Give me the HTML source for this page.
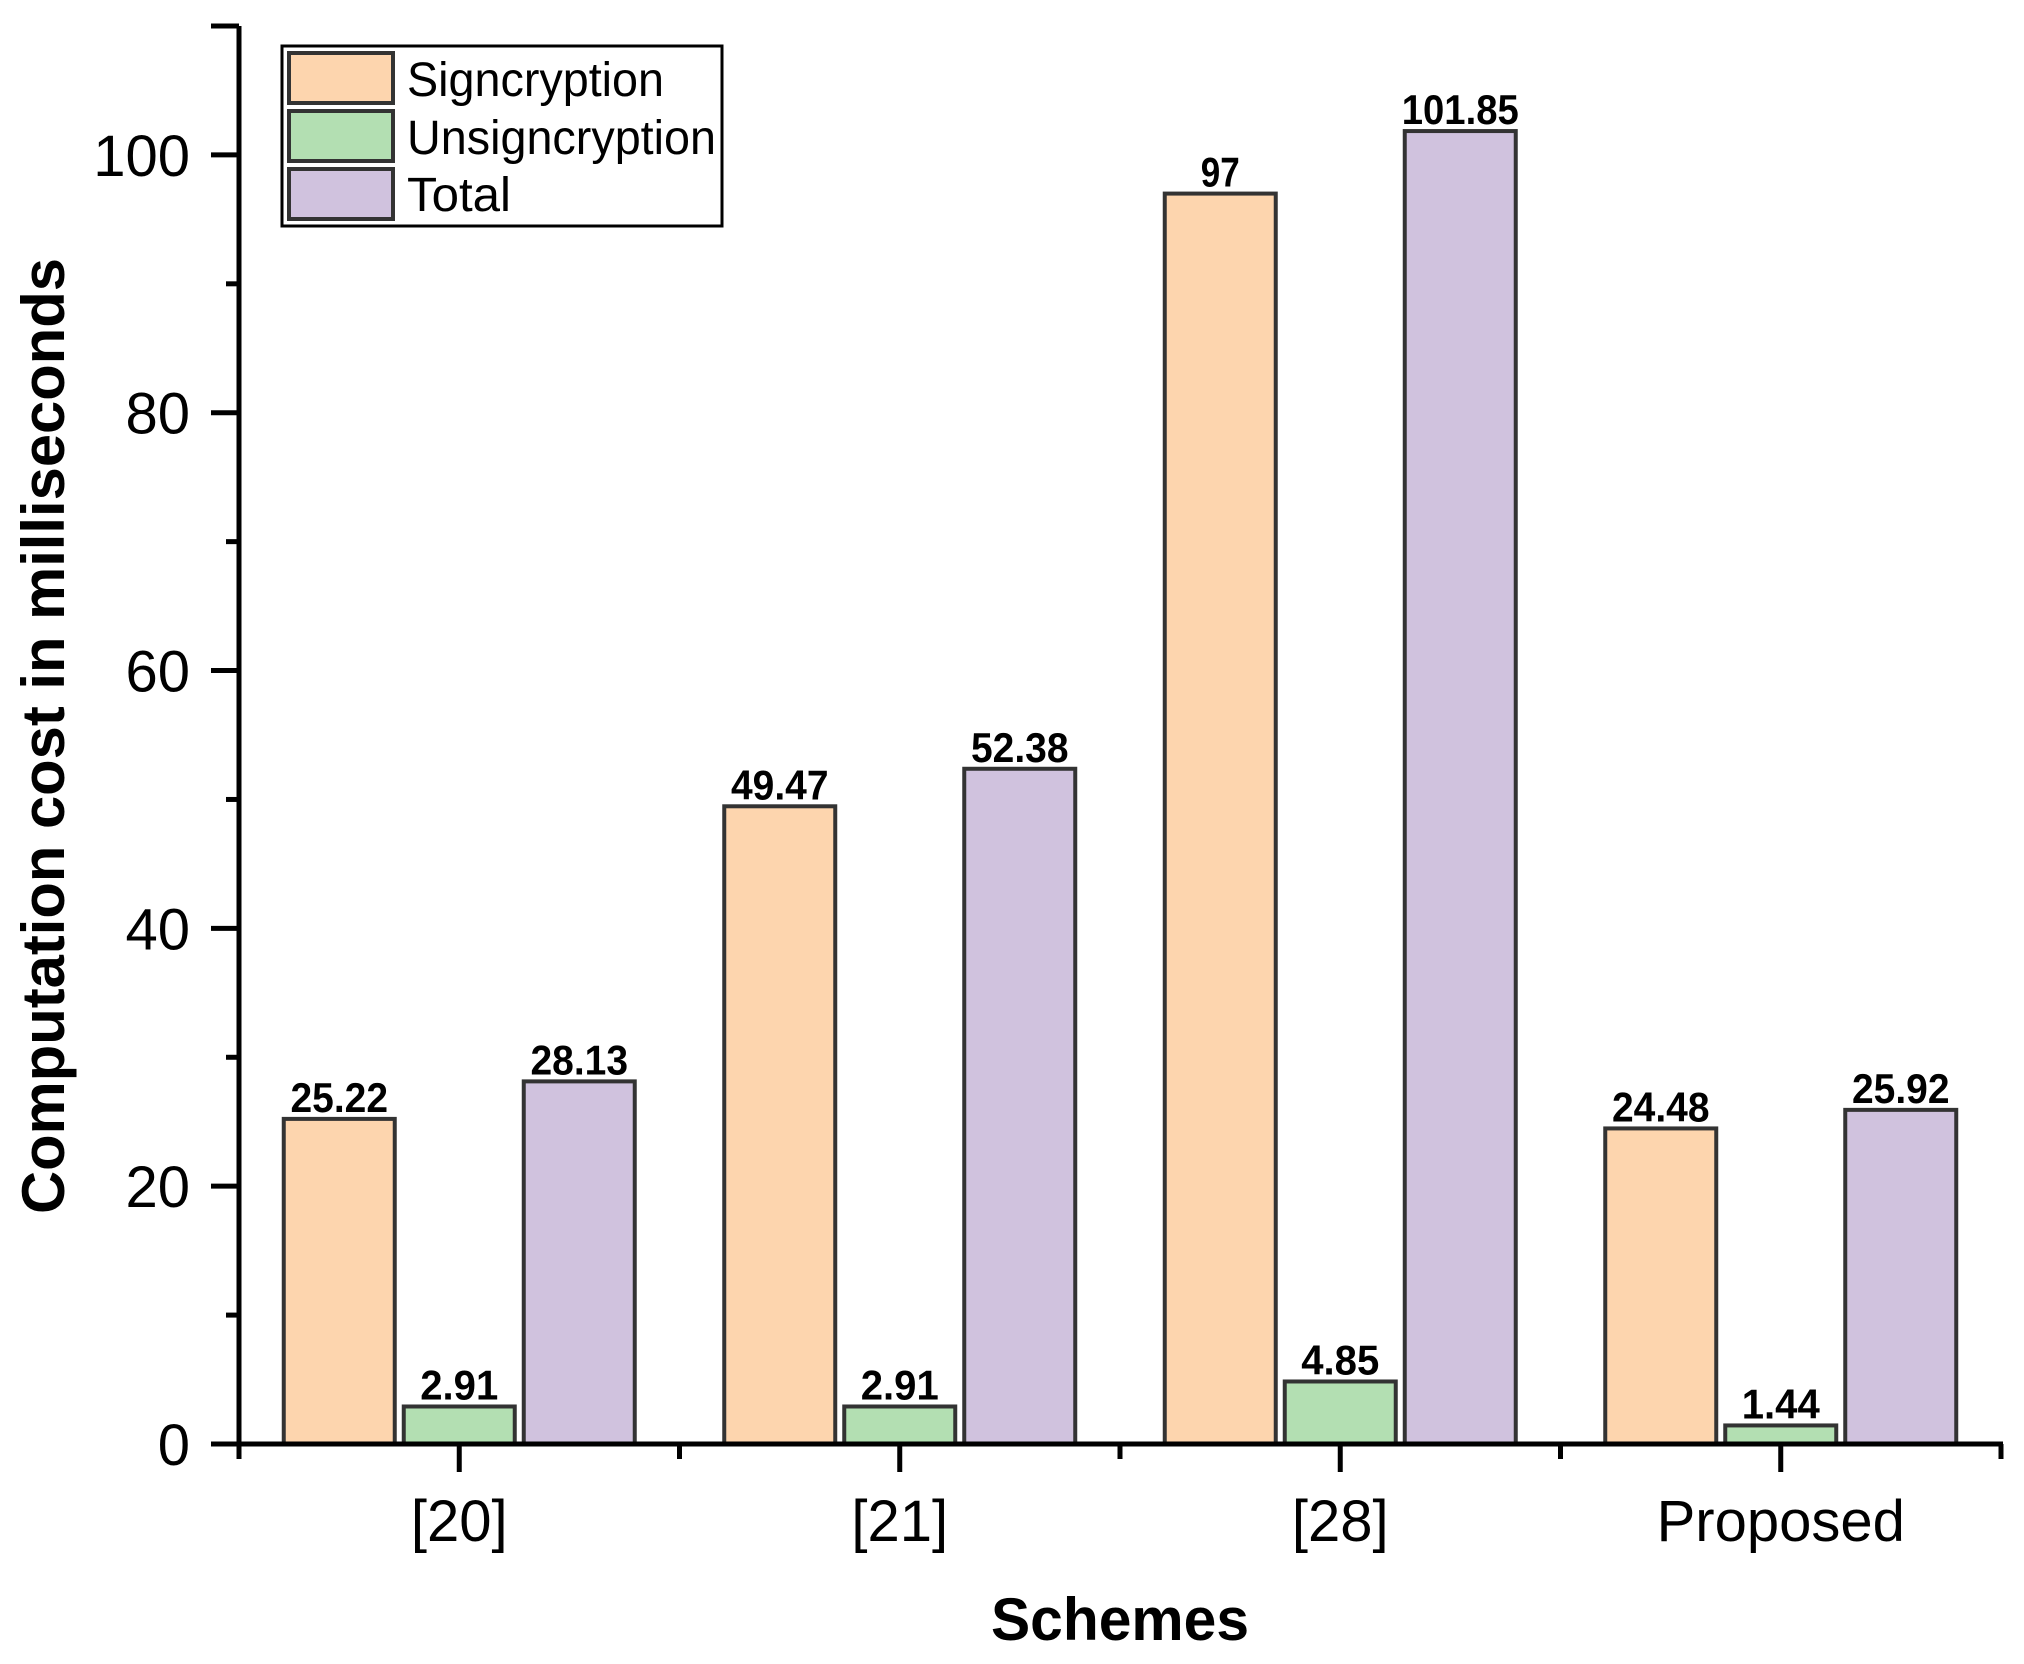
<!DOCTYPE html>
<html><head><meta charset="utf-8"><style>
html,body{margin:0;padding:0;background:#fff;}
svg{display:block;font-family:"Liberation Sans",Arial,sans-serif;}
</style></head><body>
<svg id="chart" width="2024" height="1664" viewBox="0 0 2024 1664" xmlns="http://www.w3.org/2000/svg">
<g id="bars"></g>
<g id="axes"></g>
<g id="legend">
  <rect x="282" y="46" width="440" height="180" fill="#fff" stroke="#000" stroke-width="3"/>
  <rect x="289" y="53" width="104" height="50" fill="#FDD5AE" stroke="#333" stroke-width="4"/>
  <text x="407" y="96" font-size="48" textLength="257" lengthAdjust="spacingAndGlyphs">Signcryption</text>
  <rect x="289" y="111" width="104" height="50" fill="#B3DFB2" stroke="#333" stroke-width="4"/>
  <text x="407" y="154" font-size="48" textLength="309" lengthAdjust="spacingAndGlyphs">Unsigncryption</text>
  <rect x="289" y="169" width="104" height="50" fill="#D0C2DE" stroke="#333" stroke-width="4"/>
  <text x="407" y="211" font-size="48" textLength="104" lengthAdjust="spacingAndGlyphs">Total</text>
</g>
<text x="1120" y="1640" font-size="60" font-weight="bold" text-anchor="middle" textLength="258" lengthAdjust="spacingAndGlyphs">Schemes</text>
<text transform="translate(64,736) rotate(-90)" font-size="60" font-weight="bold" text-anchor="middle" textLength="956" lengthAdjust="spacingAndGlyphs">Computation cost in milliseconds</text>
</svg>
<script>
const categories = ["[20]", "[21]", "[28]", "Proposed"];
const signcryption = [25.22, 49.47, 97, 24.48];
const unsigncryption = [2.91, 2.91, 4.85, 1.44];
const total = [28.13, 52.38, 101.85, 25.92];
const signLabels = ["25.22", "49.47", "97", "24.48"];
const unsignLabels = ["2.91", "2.91", "4.85", "1.44"];
const totalLabels = ["28.13", "52.38", "101.85", "25.92"];
const yTicks = [0, 20, 40, 60, 80, 100];

const NS = "http://www.w3.org/2000/svg";
const X0 = 239, X1 = 2001, Y0 = 1444, YTOP = 26, YMAX = 110;
function y(v){ return Y0 - (v / YMAX) * (Y0 - YTOP); }
const groupW = (X1 - X0) / categories.length;
function xc(i){ return X0 + groupW * (i + 0.5); }
function mk(tag, attrs, parent){
  const e = document.createElementNS(NS, tag);
  for (const k in attrs) e.setAttribute(k, attrs[k]);
  parent.appendChild(e);
  return e;
}
const barsG = document.getElementById('bars');
const axesG = document.getElementById('axes');
const series = [
  {vals: signcryption, labels: signLabels, color: "#FDD5AE", key: "signcryption", off: -120},
  {vals: unsigncryption, labels: unsignLabels, color: "#B3DFB2", key: "unsigncryption", off: 0},
  {vals: total, labels: totalLabels, color: "#D0C2DE", key: "total", off: 120}
];
const BW = 111;
series.forEach(s => {
  s.vals.forEach((v, i) => {
    const cx = xc(i) + s.off;
    const r = mk('rect', {x: cx - BW/2, y: y(v), width: BW, height: Y0 - y(v), fill: s.color, stroke: "#333", "stroke-width": 4}, barsG);
    
    
    const lbl = s.labels[i];
    const t = mk('text', {x: cx, y: y(v) - 7, "font-size": 42, "font-weight": "bold", "text-anchor": "middle", textLength: lbl.length * 19.5, lengthAdjust: "spacingAndGlyphs"}, barsG);
    t.textContent = lbl;
    
    
  });
});
const ya = mk('line', {x1: X0, y1: YTOP, x2: X0, y2: Y0 + 2, stroke: "#000", "stroke-width": 5}, axesG);


const xa = mk('line', {x1: X0 - 2, y1: Y0, x2: X1 + 2, y2: Y0, stroke: "#000", "stroke-width": 5}, axesG);


yTicks.forEach(v => {
  const tk = mk('line', {x1: X0 - 28, y1: y(v), x2: X0, y2: y(v), stroke: "#000", "stroke-width": 5}, axesG);
  
  
  const lb = mk('text', {x: 190, y: y(v) + 21, "font-size": 58, "text-anchor": "end"}, axesG);
  lb.textContent = v;
  
  
  if (v + 10 <= YMAX) {
    const mt = mk('line', {x1: X0 - 13, y1: y(v + 10), x2: X0, y2: y(v + 10), stroke: "#000", "stroke-width": 5}, axesG);
    
    
  }
});
const topTick = mk('line', {x1: X0 - 28, y1: YTOP, x2: X0, y2: YTOP, stroke: "#000", "stroke-width": 5}, axesG);


categories.forEach((c, i) => {
  const tk = mk('line', {x1: xc(i), y1: Y0, x2: xc(i), y2: Y0 + 28, stroke: "#000", "stroke-width": 5}, axesG);
  
  
  const lb = mk('text', {x: xc(i), y: 1541, "font-size": 58, "text-anchor": "middle"}, axesG);
  lb.textContent = c;
  
  
});
for (let i = 0; i <= categories.length; i++) {
  const bx = X0 + groupW * i;
  const mt = mk('line', {x1: bx, y1: Y0, x2: bx, y2: Y0 + 15, stroke: "#000", "stroke-width": 5}, axesG);
  
  
}
</script>
</body></html>
